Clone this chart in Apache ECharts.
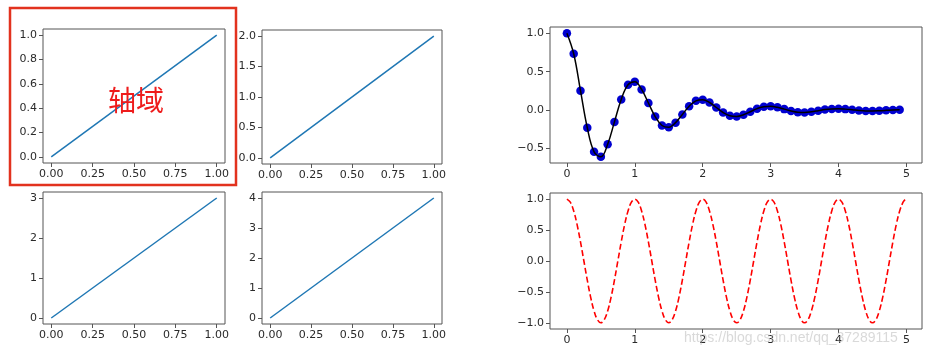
<!DOCTYPE html>
<html>
<head>
<meta charset="utf-8">
<script src="https://cdn.jsdelivr.net/npm/echarts@6/dist/echarts.min.js"></script>
<style>html,body{margin:0;padding:0;background:#fff}#c{width:937px;height:360px}</style>
</head>
<body>
<div id="c"></div>
<script>
// ---- data ----
const lineX = [0, 1];
const line1 = [0, 1];
const line2 = [0, 2];
const line3 = [0, 3];
const line4 = [0, 4];

const t1 = [0.0,0.1,0.2,0.3,0.4,0.5,0.6,0.7,0.8,0.9,1.0,1.1,1.2,1.3,1.4,1.5,1.6,1.7,1.8,1.9,
            2.0,2.1,2.2,2.3,2.4,2.5,2.6,2.7,2.8,2.9,3.0,3.1,3.2,3.3,3.4,3.5,3.6,3.7,3.8,3.9,
            4.0,4.1,4.2,4.3,4.4,4.5,4.6,4.7,4.8,4.9];
const f1 = [1.000,0.732,0.253,-0.229,-0.542,-0.607,-0.444,-0.153,0.139,0.329,
            0.368,0.269,0.093,-0.084,-0.200,-0.223,-0.163,-0.056,0.051,0.121,
            0.135,0.099,0.034,-0.031,-0.073,-0.082,-0.060,-0.021,0.019,0.045,
            0.050,0.036,0.013,-0.011,-0.027,-0.030,-0.022,-0.008,0.007,0.016,
            0.018,0.013,0.005,-0.004,-0.010,-0.011,-0.008,-0.003,0.003,0.006];

const t2 = [0.00,0.05,0.10,0.15,0.20,0.25,0.30,0.35,0.40,0.45,0.50,0.55,0.60,0.65,0.70,0.75,0.80,0.85,0.90,0.95,
            1.00,1.05,1.10,1.15,1.20,1.25,1.30,1.35,1.40,1.45,1.50,1.55,1.60,1.65,1.70,1.75,1.80,1.85,1.90,1.95,
            2.00,2.05,2.10,2.15,2.20,2.25,2.30,2.35,2.40,2.45,2.50,2.55,2.60,2.65,2.70,2.75,2.80,2.85,2.90,2.95,
            3.00,3.05,3.10,3.15,3.20,3.25,3.30,3.35,3.40,3.45,3.50,3.55,3.60,3.65,3.70,3.75,3.80,3.85,3.90,3.95,
            4.00,4.05,4.10,4.15,4.20,4.25,4.30,4.35,4.40,4.45,4.50,4.55,4.60,4.65,4.70,4.75,4.80,4.85,4.90,4.95,4.98];
const f2 = [1,0.951,0.809,0.588,0.309,0,-0.309,-0.588,-0.809,-0.951,-1,-0.951,-0.809,-0.588,-0.309,0,0.309,0.588,0.809,0.951,
            1,0.951,0.809,0.588,0.309,0,-0.309,-0.588,-0.809,-0.951,-1,-0.951,-0.809,-0.588,-0.309,0,0.309,0.588,0.809,0.951,
            1,0.951,0.809,0.588,0.309,0,-0.309,-0.588,-0.809,-0.951,-1,-0.951,-0.809,-0.588,-0.309,0,0.309,0.588,0.809,0.951,
            1,0.951,0.809,0.588,0.309,0,-0.309,-0.588,-0.809,-0.951,-1,-0.951,-0.809,-0.588,-0.309,0,0.309,0.588,0.809,0.951,
            1,0.951,0.809,0.588,0.309,0,-0.309,-0.588,-0.809,-0.951,-1,-0.951,-0.809,-0.588,-0.309,0,0.309,0.588,0.809,0.951,0.992];

const xTicksLeft = [0, 0.25, 0.5, 0.75, 1];
const yTicks1 = [0, 0.2, 0.4, 0.6, 0.8, 1.0];
const yTicks2 = [0, 0.5, 1.0, 1.5, 2.0];
const yTicks3 = [0, 1, 2, 3];
const yTicks4 = [0, 1, 2, 3, 4];
const xTicksRight = [0, 1, 2, 3, 4, 5];
const yTicks5 = [-0.5, 0, 0.5, 1.0];
const yTicks6 = [-1.0, -0.5, 0, 0.5, 1.0];

// ---- helpers ----
const zip = (xs, ys) => xs.map((x, i) => [x, ys[i]]);
const fmt = d => v => (v < 0 ? '\u2212' : '') + Math.abs(v).toFixed(d);
const textStyle = { color: '#2a2a2a', fontFamily: 'DejaVu Sans', fontSize: 11 };

function axis(gridIndex, min, max, ticks, digits, margin) {
  return {
    type: 'value', gridIndex, min, max,
    axisLine: { show: false, onZero: false },
    splitLine: { show: false },
    axisTick: { show: true, inside: false, length: 4, customValues: ticks, lineStyle: { color: '#555', width: 1 } },
    axisLabel: Object.assign({ customValues: ticks, margin, formatter: fmt(digits) }, textStyle)
  };
}
function grid(left, top, width, height) {
  return { left, top, width, height, show: true, borderColor: '#555', borderWidth: 1,
           backgroundColor: '#fff', containLabel: false, outerBoundsMode: 'none' };
}

const option = {
  animation: false,
  backgroundColor: '#fff',
  grid: [
    grid(43, 29, 182, 134),
    grid(262, 30, 180, 134),
    grid(43, 192, 182, 132),
    grid(262, 192, 180, 132),
    grid(550, 27, 372, 136),
    grid(550, 193, 372, 136)
  ],
  xAxis: [
    axis(0, -0.05, 1.05, xTicksLeft, 2, 6),
    axis(1, -0.05, 1.05, xTicksLeft, 2, 6),
    axis(2, -0.05, 1.05, xTicksLeft, 2, 6),
    axis(3, -0.05, 1.05, xTicksLeft, 2, 6),
    axis(4, -0.249, 5.229, xTicksRight, 0, 6),
    axis(5, -0.249, 5.229, xTicksRight, 0, 6)
  ],
  yAxis: [
    axis(0, -0.05, 1.05, yTicks1, 1, 6),
    axis(1, -0.1, 2.1, yTicks2, 1, 6),
    axis(2, -0.15, 3.15, yTicks3, 0, 6),
    axis(3, -0.2, 4.2, yTicks4, 0, 6),
    axis(4, -0.687, 1.080, yTicks5, 1, 6),
    axis(5, -1.1, 1.1, yTicks6, 1, 6)
  ],
  series: [
    { type: 'line', xAxisIndex: 0, yAxisIndex: 0, data: zip(lineX, line1), showSymbol: false, lineStyle: { color: '#1f77b4', width: 1.5 } },
    { type: 'line', xAxisIndex: 1, yAxisIndex: 1, data: zip(lineX, line2), showSymbol: false, lineStyle: { color: '#1f77b4', width: 1.5 } },
    { type: 'line', xAxisIndex: 2, yAxisIndex: 2, data: zip(lineX, line3), showSymbol: false, lineStyle: { color: '#1f77b4', width: 1.5 } },
    { type: 'line', xAxisIndex: 3, yAxisIndex: 3, data: zip(lineX, line4), showSymbol: false, lineStyle: { color: '#1f77b4', width: 1.5 } },
    { type: 'scatter', xAxisIndex: 4, yAxisIndex: 4, data: zip(t1, f1), symbolSize: 8.5, z: 2,
      itemStyle: { color: '#0000d0', opacity: 1 } },
    { type: 'line', xAxisIndex: 4, yAxisIndex: 4, data: zip(t1, f1), showSymbol: false, smooth: 0.4, z: 3,
      lineStyle: { color: '#000', width: 1.5 } },
    { type: 'line', xAxisIndex: 5, yAxisIndex: 5, data: zip(t2, f2), showSymbol: false, smooth: 0.4,
      lineStyle: { color: '#ff0000', width: 1.6, type: [6, 3] } }
  ],
  graphic: [
    { type: 'rect', shape: { x: 10, y: 8, width: 226, height: 177 }, z: 100,
      style: { fill: 'none', stroke: '#e2321e', lineWidth: 2.5 } },
    { type: 'text', x: 136, y: 100, z: 101,
      style: { text: '轴域', fill: '#ee1c1c', font: '28px "Noto Sans CJK SC"', align: 'center', verticalAlign: 'middle' } },
    { type: 'text', x: 684, y: 338, z: 101,
      style: { text: 'https://blog.csdn.net/qq_37289115', fill: 'rgba(185,185,185,0.55)', font: '14px "Liberation Sans"', align: 'left', verticalAlign: 'middle' } }
  ]
};

const chart = echarts.init(document.getElementById('c'), null, { renderer: 'canvas' });
chart.setOption(option);
</script>
</body>
</html>
